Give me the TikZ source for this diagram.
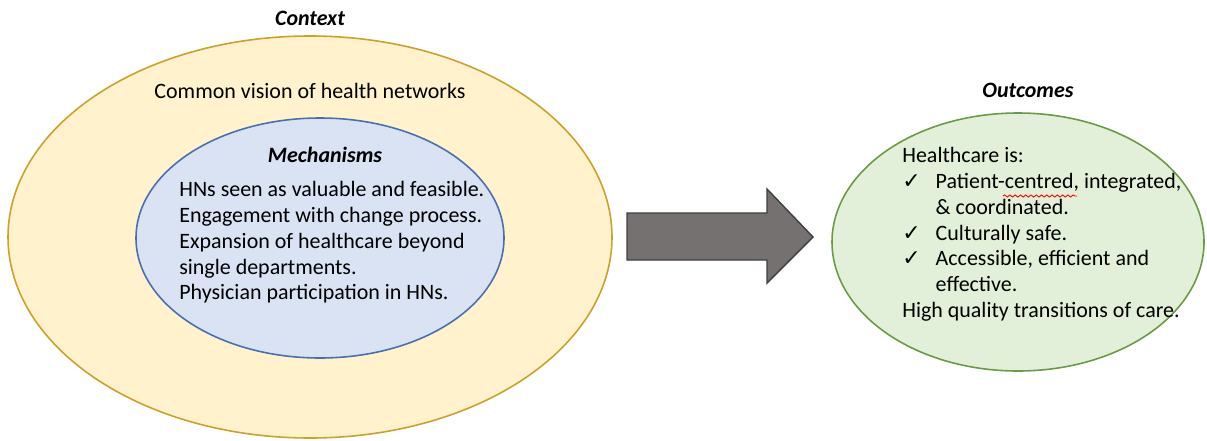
\documentclass[tikz,border=0pt]{standalone}
\usepackage{fontspec}
\setmainfont{Carlito}
\newfontfamily\symfont{DejaVu Sans}
\usetikzlibrary{shapes.geometric,positioning,decorations.pathmorphing}
\definecolor{ctxfill}{HTML}{FFF2CC}
\definecolor{ctxline}{HTML}{C9A227}
\definecolor{mechfill}{HTML}{DAE3F3}
\definecolor{mechline}{HTML}{4A6FB0}
\definecolor{outfill}{HTML}{E2F0D9}
\definecolor{outline}{HTML}{6A9A45}
\definecolor{arrfill}{HTML}{767171}
\definecolor{arrline}{HTML}{3F3F3F}
\tikzset{font=\fontsize{12.5}{14.7}\selectfont}
\tikzstyle{none}=[inner sep=0pt]
\tikzstyle{oval}=[ellipse,draw,line width=0.9pt,inner sep=0pt]
\tikzstyle{title}=[inner sep=0pt,font=\fontsize{12.5}{14.7}\selectfont\bfseries\itshape]
\tikzstyle{body}=[inner sep=0pt,align=left,anchor=north west]
\newcommand{\tick}{\makebox[19pt][l]{\symfont\fontsize{12.5}{12}\selectfont\char"2713}}

\begin{document}
\begin{tikzpicture}[x=0.02cm,y=-0.02cm]
	\useasboundingbox (0,0) rectangle (1207,440);
	% context
	\node [style=oval,fill=ctxfill,draw=ctxline,minimum width=604*0.02cm,minimum height=402*0.02cm] (ctx) at (310,237) {};
	\node [style=title] (ctxlabel) at (310,18) {Context};
	\node [style=none] (vision) at (310,91) {Common vision of health networks};
	% mechanisms
	\node [style=oval,fill=mechfill,draw=mechline,minimum width=368*0.02cm,minimum height=240*0.02cm] (mech) at (320,238) {};
	\node [style=title] (mechlabel) at (325,155) {Mechanisms};
	\node [style=body] (mechtext) at (179,181) {HNs seen as valuable and feasible.\\
		Engagement with change process.\\
		Expansion of healthcare beyond\\
		single departments.\\
		Physician participation in HNs.};
	% block arrow
	\filldraw[fill=arrfill,draw=arrline,line width=0.8pt] (627,213) -- (767,213) -- (767,189) -- (813,237)
		-- (767,283) -- (767,260) -- (627,260) -- cycle;
	% outcomes
	\node [style=oval,fill=outfill,draw=outline,minimum width=372*0.02cm,minimum height=258*0.02cm] (out) at (1018,242) {};
	\node [style=title] (outlabel) at (1028,90) {Outcomes};
	\node [style=body] (outtext) at (902,147) {Healthcare is:\\
		\tick Patient-centred, integrated,\\
		\hspace{19pt}\& coordinated.\\
		\tick Culturally safe.\\
		\tick Accessible, efficient and\\
		\hspace{19pt}effective.\\
		High quality transitions of care.};
	\draw[red,line width=0.5pt,decorate,decoration={snake,amplitude=0.6pt,segment length=3pt}] (1003,196) -- (1077,196);
\end{tikzpicture}
\end{document}
